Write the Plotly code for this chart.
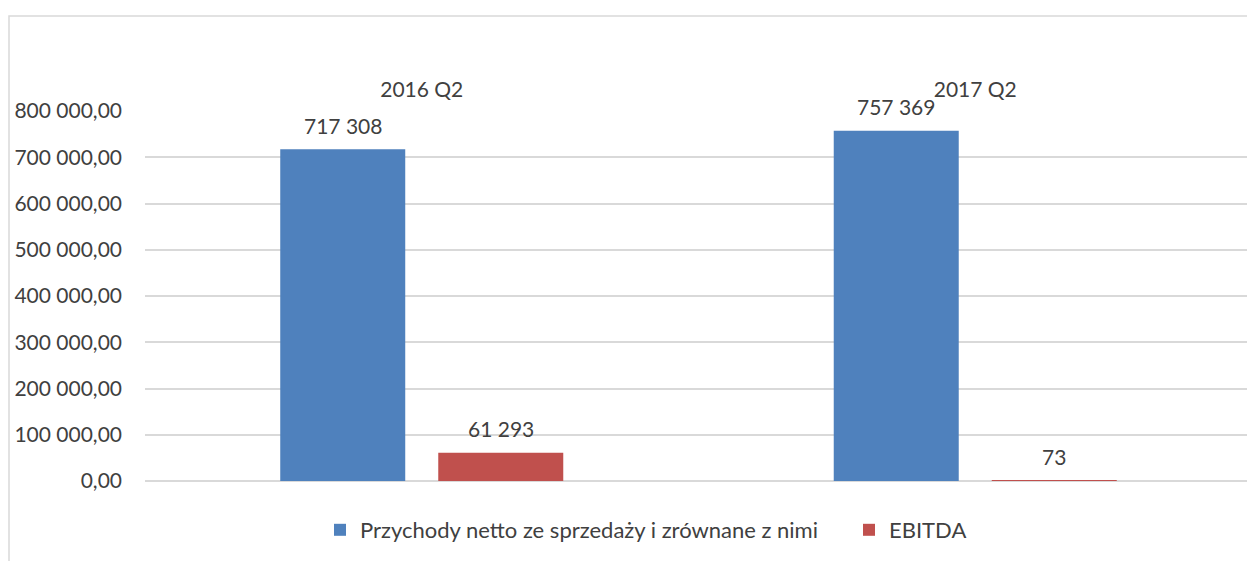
import plotly.graph_objects as go

categories = ["2016 Q2", "2017 Q2"]
series_names = ["Przychody netto ze sprzedaży i zrównane z nimi", "EBITDA"]
revenue = [717308, 757369]
ebitda = [61293, 73]
y_ticks = [0, 100000, 200000, 300000, 400000, 500000, 600000, 700000, 800000]

BLUE = "#4F81BD"
RED = "#C0504D"
TXT = "#404040"
GRID = "#D9D9D9"
FONT = "Lato, 'Open Sans', sans-serif"
FS = 21

# page body has an 8px default margin; size the figure to fit the window exactly
OFF = 8
W, H = 1255 - OFF, 561 - OFF
L, T = 145 - OFF, 111 - OFF
R = W - (1252 - OFF)
B = H - (481 - OFF)
pw, ph = W - L - R, H - T - B

fig = go.Figure()
for name, vals, col, lw in [(series_names[0], revenue, BLUE, 484), (series_names[1], ebitda, RED, None)]:
    fig.add_trace(go.Bar(
        x=categories, y=vals, name=name, marker=dict(color=col, line=dict(width=0)),
        hoverinfo="x+y+name", legendwidth=lw,
    ))

# data labels above the bars
cat_w = pw / len(categories)
bargap, bargroupgap = 0.429, 0.209
slot = cat_w * (1 - bargap) / 2
annotations = []
for si, vals in enumerate([revenue, ebitda]):
    shift = (si - 0.5) * slot
    for c, v in zip(categories, vals):
        annotations.append(dict(
            x=c, y=v, xref="x", yref="y", text=f"{v:,}".replace(",", " "),
            showarrow=False, xshift=shift, yshift=24, yanchor="middle", xanchor="center",
            font=dict(size=FS, color=TXT, family=FONT),
        ))

fig.update_layout(
    width=W, height=H,
    margin=dict(l=L, r=R, t=T, b=B, pad=0),
    separators=", ",
    barmode="group", bargap=bargap, bargroupgap=bargroupgap,
    paper_bgcolor="white", plot_bgcolor="white",
    font=dict(family=FONT, size=FS, color=TXT),
    showlegend=True,
    legend=dict(orientation="h", x=(320 - OFF - L) / pw, xanchor="left",
                y=(H - B - (530 - OFF)) / ph, yanchor="middle",
                font=dict(size=22, color=TXT, family=FONT), itemwidth=30, tracegroupgap=0),
    xaxis=dict(side="top", showgrid=False, showline=False, zeroline=False, ticks="",
               tickfont=dict(size=FS, color=TXT, family=FONT), ticklabelstandoff=9),
    yaxis=dict(range=[0, 800000], tickvals=y_ticks, tickformat=",.2f", showgrid=True,
               gridcolor=GRID, gridwidth=1.5, zeroline=True, zerolinecolor=GRID,
               zerolinewidth=1.5, showline=False, ticks="", ticklabelstandoff=22,
               tickfont=dict(size=FS, color=TXT, family=FONT)),
    annotations=annotations,
    shapes=[dict(type="rect", xref="paper", yref="paper",
                 x0=(9 - OFF - L) / pw, x1=(W + 20 - L) / pw,
                 y0=(H - B - (H + 20)) / ph, y1=(H - B - (16 - OFF)) / ph,
                 line=dict(color=GRID, width=1.5), fillcolor="rgba(0,0,0,0)", layer="below")],
)

fig.write_html("out.html")
